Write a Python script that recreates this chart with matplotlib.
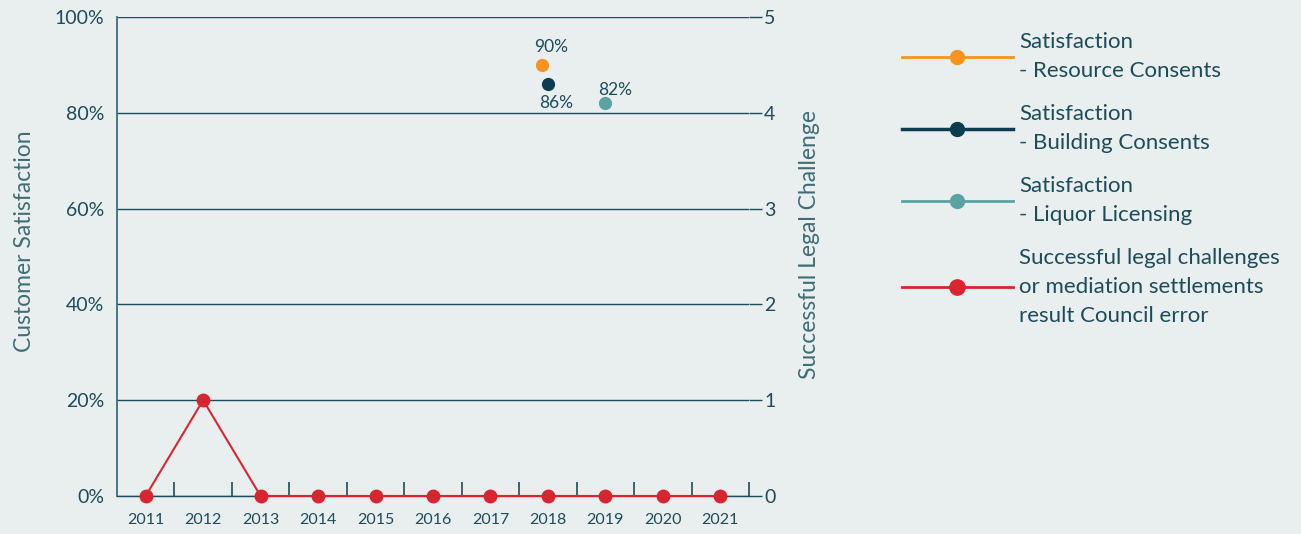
import numpy as np
import matplotlib.pyplot as plt
import matplotlib.transforms as mtransforms
from matplotlib.ticker import FixedLocator, FuncFormatter

plt.rcParams['font.family'] = ['Lato', 'DejaVu Sans']

years = list(range(2011, 2022))
legal_challenges = [0, 1, 0, 0, 0, 0, 0, 0, 0, 0, 0]

resource_year, resource_sat = [2018], [90]
building_year, building_sat = [2018], [86]
liquor_year, liquor_sat = [2019], [82]

bg = '#e9efef'
ink = '#1d4b5a'
soft_ink = '#3f6c77'
c_resource = '#f7931e'
c_building = '#0b3d4e'
c_liquor = '#5aa3a2'
c_legal = '#d7262f'

fig = plt.figure(figsize=(13.01, 5.34), dpi=100, facecolor=bg)
ax = fig.add_axes([0.0899, 0.0712, 0.4858, 0.8970])
ax.set_facecolor(bg)
ax.set_xlim(2010.5, 2021.5)
ax.set_ylim(0, 100)

# horizontal grid every 20%
ax.yaxis.set_major_locator(FixedLocator([0, 20, 40, 60, 80, 100]))
ax.yaxis.set_major_formatter(FuncFormatter(lambda v, p: f'{int(v)}%'))
ax.grid(axis='y', color=ink, linewidth=1.0, zorder=1)
ax.set_axisbelow(True)
for s in ['top', 'right']:
    ax.spines[s].set_visible(False)
ax.spines['left'].set_color(soft_ink)
ax.spines['left'].set_linewidth(1.3)
ax.spines['bottom'].set_color(ink)
ax.spines['bottom'].set_linewidth(1.0)

ax.set_xticks(years)
ax.set_xticklabels([str(y) for y in years])
ax.xaxis.set_minor_locator(FixedLocator(np.arange(2011.5, 2022, 1.0)))
ax.tick_params(axis='x', which='major', length=0, pad=12, labelsize=11.5, labelcolor=ink)
ax.tick_params(axis='x', which='minor', direction='in', length=10, width=1.2, color=ink)
ax.tick_params(axis='y', length=0, pad=9, labelsize=14, labelcolor=ink)
ax.set_ylabel('Customer Satisfaction', fontsize=16.5, color=soft_ink)
ax.yaxis.set_label_coords(-0.129, 0.532)

# satisfaction results
shift = mtransforms.ScaledTranslation(-6 / 100, 0, fig.dpi_scale_trans)
ax.plot(resource_year, resource_sat, 'o', color=c_resource, ms=8.5,
        transform=ax.transData + shift, zorder=4)
ax.plot(building_year, building_sat, 'o', color=c_building, ms=8.5, zorder=4)
ax.plot(liquor_year, liquor_sat, 'o', color=c_liquor, ms=8.5, zorder=4)

for x, y, dx, dy, va in [(resource_year[0], resource_sat[0], 2, 7, 'bottom'),
                         (building_year[0], building_sat[0], 6, -8, 'top'),
                         (liquor_year[0], liquor_sat[0], 7, 4, 'bottom')]:
    ax.annotate(f'{y}%', (x, y), xytext=(dx, dy), textcoords='offset points',
                ha='center', va=va, fontsize=12.5, color=ink)

# legal challenges on the right axis
ax2 = ax.twinx()
ax2.set_ylim(0, 5)
ax2.set_yticks(range(6))
for s in ax2.spines.values():
    s.set_visible(False)
ax2.tick_params(axis='y', direction='out', length=9, width=1.0, color=ink,
                pad=2, labelsize=14, labelcolor=ink)
ax2.set_ylabel('Successful Legal Challenge', fontsize=16.5, color=soft_ink)
ax2.yaxis.set_label_coords(1.079, 0.524)
ax2.plot(years, legal_challenges, '-o', color=c_legal, lw=1.5, ms=9,
         clip_on=False, zorder=5)

# legend built from the plotted styles
handles = [
    plt.Line2D([], [], color=c_resource, lw=2, marker='o', ms=10),
    plt.Line2D([], [], color=c_building, lw=2.5, marker='o', ms=10),
    plt.Line2D([], [], color=c_liquor, lw=2, marker='o', ms=10),
    plt.Line2D([], [], color=c_legal, lw=2, marker='o', ms=11),
]
labels = [
    'Satisfaction\n- Resource Consents',
    'Satisfaction\n- Building Consents',
    'Satisfaction\n- Liquor Licensing',
    'Successful legal challenges\nor mediation settlements\nresult Council error',
]
leg = fig.legend(handles, labels, loc='upper left', bbox_to_anchor=(0.693, 0.940),
                 frameon=False, fontsize=16, handlelength=5.0, handletextpad=0.3,
                 labelspacing=1.05, borderpad=0, borderaxespad=0, markerscale=1.0)
for t in leg.get_texts():
    t.set_color(ink)
    t.set_linespacing(1.55)

fig.savefig('out.png', dpi=100, facecolor=bg)
